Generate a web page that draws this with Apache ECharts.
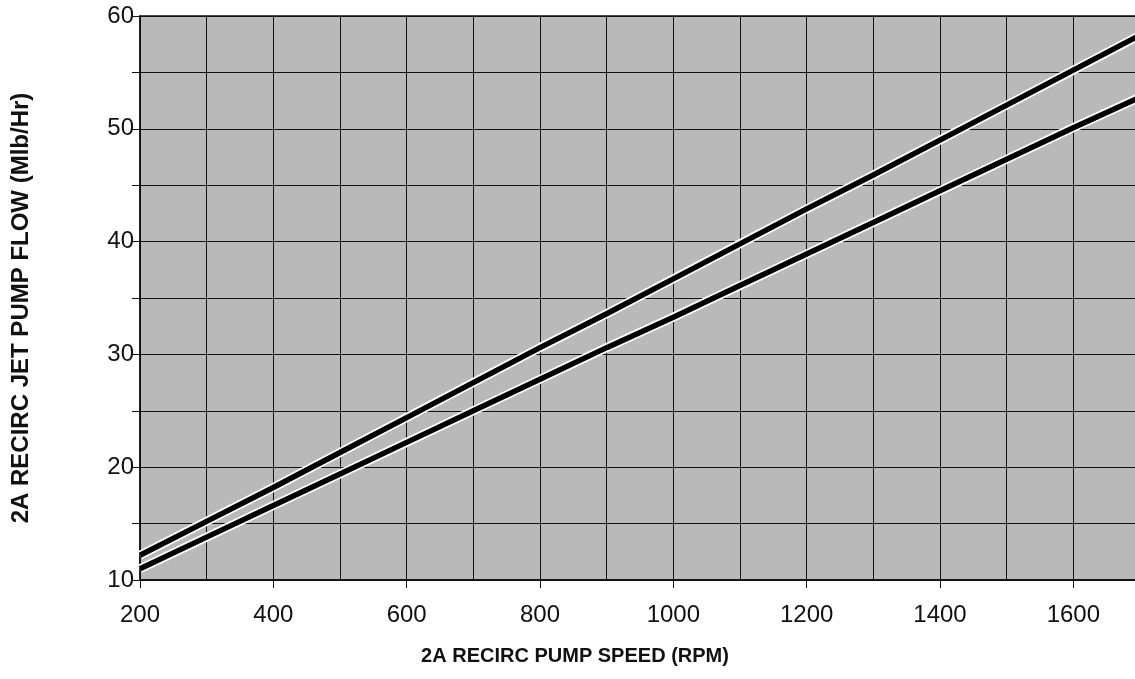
<!DOCTYPE html>
<html><head><meta charset="utf-8">
<script src="https://cdn.jsdelivr.net/npm/echarts@6/dist/echarts.min.js"></script>
<style>html,body{margin:0;padding:0;background:#fff;overflow:hidden}#c{width:1150px;height:679px}</style>
</head><body><div id="c"></div>
<script>
var speeds = [200,300,400,500,600,700,800,900,1000,1100,1200,1300,1400,1500,1600,1700];
var upperFlow = [12.2,15.2,18.2,21.3,24.4,27.5,30.6,33.6,36.7,39.8,42.9,45.9,49.0,52.1,55.2,58.3];
var lowerFlow = [11.0,13.8,16.6,19.4,22.2,25.0,27.8,30.6,33.3,36.1,38.9,41.7,44.5,47.3,50.1,52.8];
var xTitle = '2A RECIRC PUMP SPEED (RPM)';
var yTitle = '2A RECIRC JET PUMP FLOW (Mlb/Hr)';

function pairs(xs, ys){ return xs.map(function(x,i){ return [x, ys[i]]; }); }
var font = 'Arial, "Liberation Sans", sans-serif';
var chart = echarts.init(document.getElementById('c'));
chart.setOption({
  animation:false,
  backgroundColor:'#fff',
  title:{text:xTitle,left:570,top:641,textAlign:'center',
    textStyle:{fontFamily:font,fontSize:20,fontWeight:'bold',color:'#111'}},
  grid:{left:140,width:1000,top:16,height:564,show:true,backgroundColor:'#b9b9b9',borderColor:'#111',borderWidth:1.5},
  xAxis:[{
    type:'value',min:200,max:1700,interval:100,
    axisLine:{show:true,lineStyle:{color:'#111',width:1.5}},
    axisTick:{show:false},axisLabel:{show:false},
    splitLine:{show:true,lineStyle:{color:'#111',width:1}}
  },{
    type:'value',min:200,max:1700,interval:200,position:'bottom',
    axisLine:{show:false},
    axisTick:{show:true,length:8,lineStyle:{color:'#111'}},
    axisLabel:{show:true,margin:23,fontFamily:font,fontSize:24,color:'#111',
      formatter:function(v){return v>1600?'':String(v);}},
    splitLine:{show:false}
  }],
  yAxis:{
    type:'value',min:10,max:60,interval:5,
    axisLine:{show:true,lineStyle:{color:'#111',width:1.5}},
    axisTick:{show:true,length:8,lineStyle:{color:'#111'}},
    axisLabel:{margin:6,fontFamily:font,fontSize:24,color:'#111',
      formatter:function(v){return v%10===0?String(v):'';}},
    splitLine:{show:true,lineStyle:{color:'#111',width:1}},
    name:yTitle,nameLocation:'middle',nameGap:107,
    nameTextStyle:{fontFamily:font,fontSize:24,fontWeight:'bold',color:'#111',padding:[0,20,0,0]}
  },
  series:[
    {type:'line',data:pairs(speeds,upperFlow),showSymbol:false,silent:true,lineStyle:{color:'#fff',width:9}},
    {type:'line',data:pairs(speeds,lowerFlow),showSymbol:false,silent:true,lineStyle:{color:'#fff',width:9}},
    {type:'line',data:pairs(speeds,upperFlow),showSymbol:false,silent:true,lineStyle:{color:'#000',width:5.5}},
    {type:'line',data:pairs(speeds,lowerFlow),showSymbol:false,silent:true,lineStyle:{color:'#000',width:5.5}}
  ]
});
</script></body></html>
